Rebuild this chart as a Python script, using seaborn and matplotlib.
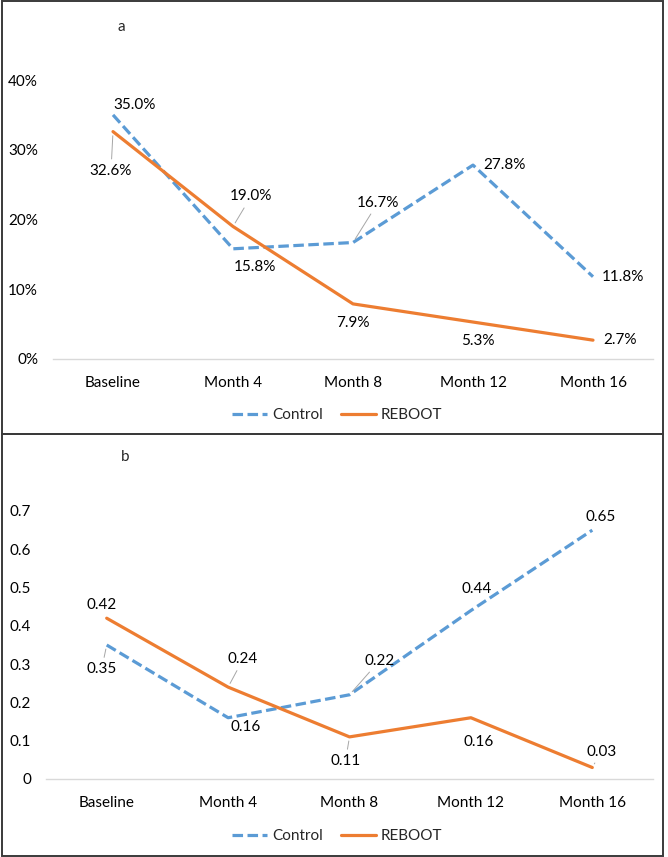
import matplotlib
matplotlib.use("Agg")
import matplotlib.pyplot as plt
import seaborn as sns
import pandas as pd
from matplotlib.patches import Rectangle
from matplotlib.lines import Line2D
from matplotlib.ticker import FuncFormatter

categories = ["Baseline", "Month 4", "Month 8", "Month 12", "Month 16"]
control_a = [0.350, 0.158, 0.167, 0.278, 0.118]
reboot_a = [0.326, 0.190, 0.079, 0.053, 0.027]
control_b = [0.35, 0.16, 0.22, 0.44, 0.65]
reboot_b = [0.42, 0.24, 0.11, 0.16, 0.03]
series_names = ["Control", "REBOOT"]
yticks_a = [0.0, 0.1, 0.2, 0.3, 0.4]
yticks_b = [0.0, 0.1, 0.2, 0.3, 0.4, 0.5, 0.6, 0.7]

sns.set_style("white")
FAMILY = ["Lato", "DejaVu Sans"]
plt.rcParams["font.family"] = FAMILY

W, H = 668, 857
fig = plt.figure(figsize=(W / 100, H / 100), dpi=100)
renderer = fig.canvas.get_renderer()

# choose a font size so that "Month 8" is about 58 px wide (as in the reference)
_t = fig.text(0, 0, "Month 8", fontsize=10)
_w = _t.get_window_extent(renderer=renderer).width
_t.remove()
FS = 10 * 58 / _w
FPX = FS * 100 / 72

BLUE = "#5B9BD5"
ORANGE = "#ED7D31"
palette = {"Control": BLUE, "REBOOT": ORANGE}
DASH = (3.3, 1.4)
dashes = {"Control": DASH, "REBOOT": ""}
LW = 2.3


def px_axes(left, top, right, bottom):
    return fig.add_axes([left / W, 1 - bottom / H, (right - left) / W, (bottom - top) / H])


# panel borders
for (y0, y1) in [(1, 434), (434, 856)]:
    fig.patches.append(Rectangle((1.5 / W, 1 - y1 / H), 661 / W, (y1 - y0) / H,
                                 transform=fig.transFigure, fill=False,
                                 edgecolor="#3a3a3a", linewidth=1.4))


def make_panel(ax, ctrl, reb, ymax, yticks, fmt, labels, letter, letter_xy, legend_y):
    df = pd.DataFrame({
        "cat": categories * 2,
        "val": list(ctrl) + list(reb),
        "series": [series_names[0]] * 5 + [series_names[1]] * 5,
    })
    sns.lineplot(data=df, x="cat", y="val", hue="series", style="series",
                 palette=palette, dashes=dashes, linewidth=LW, ax=ax,
                 legend=False, sort=False)
    ax.set_xlim(-0.5, 4.5)
    ax.set_ylim(0, ymax)
    ax.set_yticks(yticks)
    ax.yaxis.set_major_formatter(FuncFormatter(fmt))
    ax.set_xlabel("")
    ax.set_ylabel("")
    for s in ["top", "right", "left"]:
        ax.spines[s].set_visible(False)
    ax.spines["bottom"].set_color("#D9D9D9")
    ax.spines["bottom"].set_linewidth(1.0)
    ax.tick_params(axis="both", length=0, labelsize=FS, colors="#000000")
    ax.tick_params(axis="x", pad=12)
    ax.tick_params(axis="y", pad=10.8)
    ax.patch.set_alpha(0)
    for (series, i, text, dx, dy, leader) in labels:
        vals = ctrl if series == "Control" else reb
        kw = {}
        if leader:
            kw["arrowprops"] = dict(arrowstyle="-", color="#A6A6A6", lw=0.7,
                                    shrinkA=1, shrinkB=3)
        ax.annotate(text, xy=(i, vals[i]), xytext=(dx, dy), textcoords="offset pixels",
                    ha="center", va="center", fontsize=FS, color="#000000",
                    annotation_clip=False, **kw)
    fig.text(letter_xy[0] / W, 1 - letter_xy[1] / H, letter, fontsize=FS,
             ha="center", va="center")
    handles = [Line2D([], [], color=BLUE, lw=LW, dashes=DASH),
               Line2D([], [], color=ORANGE, lw=LW)]
    fig.legend(handles, series_names, loc="center", ncol=2, frameon=False,
               bbox_to_anchor=(337 / W, 1 - legend_y / H), fontsize=FS,
               handlelength=35 / FPX, handletextpad=5 / FPX,
               columnspacing=18 / FPX, borderpad=0, borderaxespad=0)


pct = lambda v, p: f"{v * 100:.0f}%"
dec = lambda v, p: "0" if abs(v) < 1e-9 else f"{v:.1f}"

ax1 = px_axes(53, 80, 653, 359)
labels_a = [
    ("Control", 0, "35.0%", 22, 10, False),
    ("REBOOT", 0, "32.6%", -2, -39, True),
    ("REBOOT", 1, "19.0%", 18, 30, True),
    ("Control", 1, "15.8%", 22, -18, False),
    ("Control", 2, "16.7%", 25, 40, True),
    ("REBOOT", 2, "7.9%", 0, -19, False),
    ("Control", 3, "27.8%", 31, 0, False),
    ("REBOOT", 3, "5.3%", 5, -19, False),
    ("Control", 4, "11.8%", 30, 0, False),
    ("REBOOT", 4, "2.7%", 27, 0, False),
]
make_panel(ax1, control_a, reboot_a, 0.4, yticks_a, pct, labels_a, "a", (121, 27), 415)

ax2 = px_axes(46, 511, 653, 779)
labels_b = [
    ("REBOOT", 0, "0.42", -5, 13, False),
    ("Control", 0, "0.35", -5, -24, True),
    ("REBOOT", 1, "0.24", 15, 28, True),
    ("Control", 1, "0.16", 18, -9, False),
    ("Control", 2, "0.22", 30, 34, True),
    ("REBOOT", 2, "0.11", -4, -24, True),
    ("Control", 3, "0.44", 6, 22, False),
    ("REBOOT", 3, "0.16", 8, -24, False),
    ("Control", 4, "0.65", 8, 13, False),
    ("REBOOT", 4, "0.03", 9, 16, True),
]
make_panel(ax2, control_b, reboot_b, 0.7, yticks_b, dec, labels_b, "b", (125, 457), 836)

fig.savefig("out.png", dpi=100)
